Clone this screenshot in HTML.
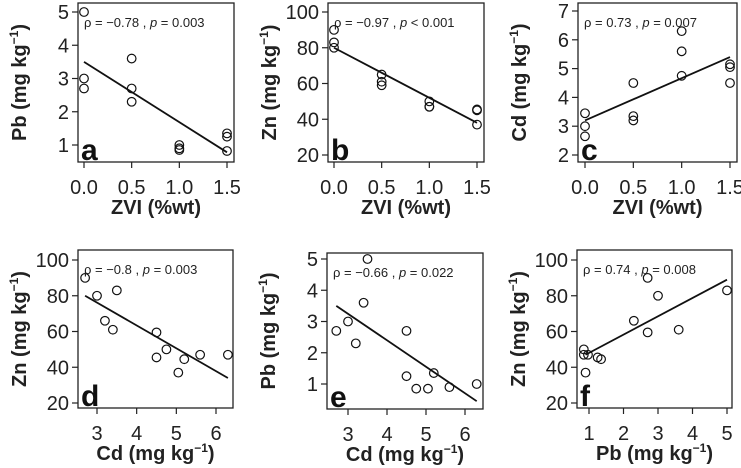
<!DOCTYPE html>
<html><head><meta charset="utf-8"><style>
body{margin:0;background:#fff}
svg{display:block;font-family:"Liberation Sans",sans-serif}
</style></head><body>
<svg id="fig" width="741" height="468" viewBox="0 0 741 468"></svg>
<script>
// Data
const zvi=[0,0,0,0.5,0.5,0.5,1,1,1,1.5,1.5,1.5];
const pbZ=[5.0,3.0,2.7,3.6,2.7,2.3,1.0,0.9,0.85,1.35,1.25,0.82];
const znZ=[90,83,80,65,61,59,50,47,47,45.5,45,37];
const cdZ=[3.45,3.0,2.65,4.5,3.35,3.2,6.3,5.6,4.75,5.15,5.05,4.5];
const cdD=[2.7,3.0,3.2,3.4,3.5,4.5,4.5,4.75,5.05,5.2,5.6,6.3];
const znD=[90,80,66,61,83,59.5,45.5,50,37,44.5,47,47];
const pbE=[2.7,3.0,2.3,3.6,5.0,2.7,1.25,0.85,0.85,1.35,0.9,1.0];
const pbF=[0.85,0.85,0.9,0.97,1.25,1.35,2.3,2.7,2.7,3.0,3.6,5.0];
const znF=[50,47,37,47,45.5,44.5,66,59.5,90,80,61,83];
const fitA=[0,3.5,1.5,0.78], fitB=[0,80,1.5,38], fitC=[0,3.2,1.5,5.4];
const fitD=[2.7,80,6.3,34], fitE=[2.7,3.5,6.3,0.45], fitF=[0.9,47,5,89];
const zviTicks=[0,0.5,1,1.5], zviLabels=["0.0","0.5","1.0","1.5"];

const NS="http://www.w3.org/2000/svg";
const svg=document.getElementById('fig');
function mk(t,a,p){const e=document.createElementNS(NS,t);for(const k in a)e.setAttribute(k,a[k]);(p||svg).appendChild(e);return e;}

const panels=[
 {id:'a',box:[78,3,234,162],xr:[0,1.5,84,227],yr:[1,5,145,12],x:zvi,y:pbZ,fit:fitA,xt:zviTicks,xl:zviLabels,yt:[1,2,3,4,5],yl:'Pb',xlab:'ZVI (%wt)',ann:'ρ = −0.78 , <tspan font-style="italic">p</tspan> = 0.003'},
 {id:'b',box:[328,3,484,162],xr:[0,1.5,334,477],yr:[20,100,155,12],x:zvi,y:znZ,fit:fitB,xt:zviTicks,xl:zviLabels,yt:[20,40,60,80,100],yl:'Zn',xlab:'ZVI (%wt)',ann:'ρ = −0.97 , <tspan font-style="italic">p</tspan> &lt; 0.001'},
 {id:'c',box:[578,3,737,162],xr:[0,1.5,585,730],yr:[2,7,155,11],x:zvi,y:cdZ,fit:fitC,xt:zviTicks,xl:zviLabels,yt:[2,3,4,5,6,7],yl:'Cd',xlab:'ZVI (%wt)',ann:'ρ = 0.73 , <tspan font-style="italic">p</tspan> = 0.007'},
 {id:'d',box:[78,250,233,408],xr:[3,6,97,216],yr:[20,100,403,260],x:cdD,y:znD,fit:fitD,xt:[3,4,5,6],xl:['3','4','5','6'],yt:[20,40,60,80,100],yl:'Zn',xlab:'Cd',ann:'ρ = −0.8 , <tspan font-style="italic">p</tspan> = 0.003'},
 {id:'e',box:[327,253,483,409],xr:[3,6,348,465],yr:[1,5,384,259],x:cdD,y:pbE,fit:fitE,xt:[3,4,5,6],xl:['3','4','5','6'],yt:[1,2,3,4,5],yl:'Pb',xlab:'Cd',ann:'ρ = −0.66 , <tspan font-style="italic">p</tspan> = 0.022'},
 {id:'f',box:[577,250,732,408],xr:[1,5,589,727],yr:[20,100,403,260],x:pbF,y:znF,fit:fitF,xt:[1,2,3,4,5],xl:['1','2','3','4','5'],yt:[20,40,60,80,100],yl:'Zn',xlab:'Pb',ann:'ρ = 0.74 , <tspan font-style="italic">p</tspan> = 0.008'}
];

panels.forEach(P=>{
 const g=mk('g',{});
 
 
 const sx=v=>P.xr[2]+(v-P.xr[0])*(P.xr[3]-P.xr[2])/(P.xr[1]-P.xr[0]);
 const sy=v=>P.yr[2]+(v-P.yr[0])*(P.yr[3]-P.yr[2])/(P.yr[1]-P.yr[0]);
 const [L,T,R,B]=P.box;
 const box=mk('rect',{x:L,y:T,width:R-L,height:B-T,fill:'none',stroke:'#222','stroke-width':1.3},g);
 
 
 P.xt.forEach((t,i)=>{
  mk('line',{x1:sx(t),x2:sx(t),y1:B,y2:B+6,stroke:'#222','stroke-width':1.2},g);
  const tx=mk('text',{x:sx(t),y:B+32,'font-size':20,'text-anchor':'middle',fill:'#222'},g);
  tx.textContent=P.xl[i];
  
  
 });
 P.yt.forEach(t=>{
  mk('line',{x1:L-6,x2:L,y1:sy(t),y2:sy(t),stroke:'#222','stroke-width':1.2},g);
  const tx=mk('text',{x:L-9,y:sy(t)+7,'font-size':20,'text-anchor':'end',fill:'#222'},g);
  tx.textContent=t;
  
  
 });
 const f=P.fit;
 const ln=mk('line',{x1:sx(f[0]),y1:sy(f[1]),x2:sx(f[2]),y2:sy(f[3]),stroke:'#111','stroke-width':1.8},g);
 
 
 P.x.forEach((v,i)=>{
  const c=mk('circle',{cx:sx(v),cy:sy(P.y[i]),r:4.3,fill:'none',stroke:'#111','stroke-width':1.2},g);
  
  
 });
 const an=mk('text',{x:L+6,y:T+24,'font-size':13,fill:'#222'},g);
 an.innerHTML=P.ann;
 
 
 const lt=mk('text',{x:L+3,y:B-2,'font-size':30,'font-weight':'bold',fill:'#111'},g);
 lt.textContent=P.id;
 
 
 const xt=mk('text',{x:(L+R)/2,y:B+52,'font-size':20,'font-weight':'bold','text-anchor':'middle',fill:'#222'},g);
 if(P.xlab==='ZVI (%wt)') xt.textContent=P.xlab;
 else xt.innerHTML=P.xlab+' (mg kg<tspan dy="-8" font-size="12">−1</tspan><tspan dy="8">)</tspan>';
 
 
 const cy=(T+B)/2, cx=L-52;
 const yt=mk('text',{x:cx,y:cy,'font-size':20,'font-weight':'bold','text-anchor':'middle',fill:'#222',transform:`rotate(-90 ${cx} ${cy})`},g);
 yt.innerHTML=P.yl+' (mg kg<tspan dy="-8" font-size="12">−1</tspan><tspan dy="8">)</tspan>';
 
 
});
</script>
</body></html>
